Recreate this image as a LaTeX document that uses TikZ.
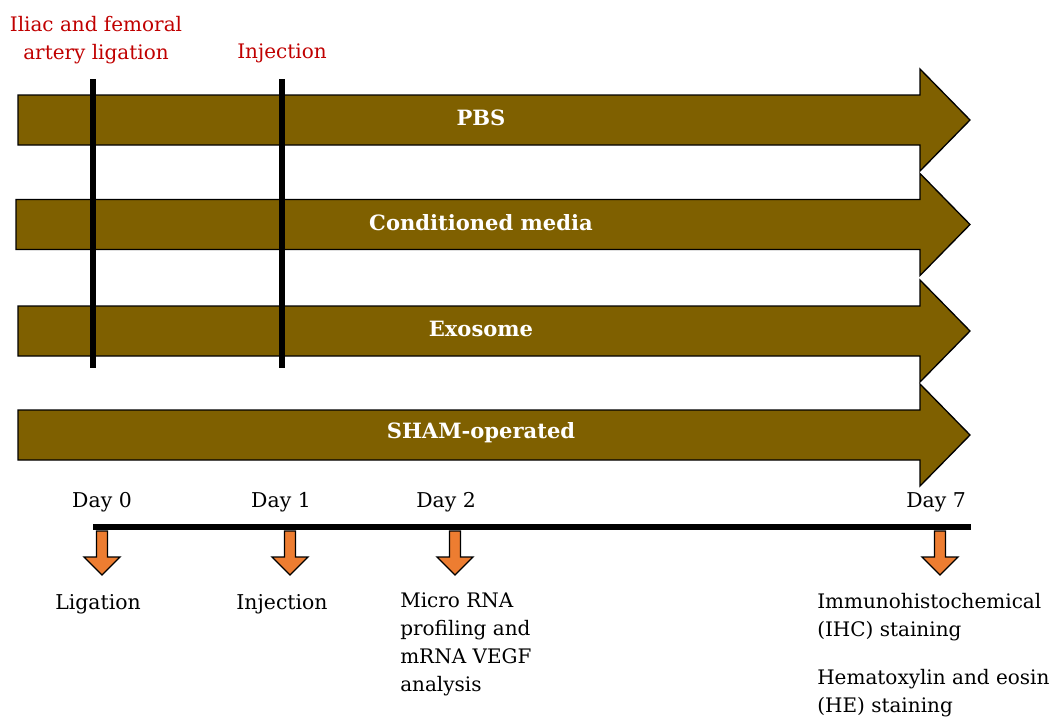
\documentclass[tikz,border=0pt]{standalone}
\usepackage{fontspec}
\setmainfont{DejaVu Serif}
\definecolor{shambrown}{HTML}{7F6000}
\definecolor{markorange}{HTML}{ED7D31}
\definecolor{notered}{HTML}{C00000}
\tikzset{
  grouplabel/.style = {text = white, font = \fontsize{15.8}{18}\selectfont\bfseries},
  daylabel/.style = {font = \fontsize{15.3}{18}\selectfont},
  steplabel/.style = {font = \fontsize{15}{21}\selectfont, align = left, anchor = north west, inner sep = 0pt},
  eventlabel/.style = {text = notered, font = \fontsize{15}{21}\selectfont, align = center}
}
\begin{document}
\begin{tikzpicture}[x = 0.75pt, y = -0.75pt]
  \useasboundingbox (0, 0) rectangle (1053, 718);
  % treatment groups
  \foreach \l/\c/\n/\t in {18/120/pbs/PBS, 16/224.5/cm/Conditioned media, 18/331/exo/Exosome, 18/435/sham/SHAM-operated} {
    \draw[fill = shambrown, line width = 1pt] (\l, \c - 25) -- (920, \c - 25) -- (920, \c - 51) -- (970, \c) -- (920, \c + 51) -- (920, \c + 25) -- (\l, \c + 25) -- cycle;
    \node[grouplabel] (\n) at (481, \c - 2) {\t};
  }
  % ligation and injection marks
  \coordinate (ligtop) at (93, 79);
  \coordinate (ligbot) at (93, 368);
  \coordinate (injtop) at (282, 79);
  \coordinate (injbot) at (282, 368);
  \draw[line width = 4.5pt] (ligtop) -- (ligbot);
  \draw[line width = 4.5pt] (injtop) -- (injbot);
  \node[eventlabel] (ligation) at (96, 40.5) {Iliac and femoral\\artery ligation};
  \node[eventlabel] (injection) at (282, 53.5) {Injection};
  % time line
  \coordinate (tstart) at (93, 527);
  \coordinate (tend) at (971, 527);
  \draw[line width = 5pt] (tstart) -- (tend);
  \node[daylabel] (day0) at (102, 502) {Day 0};
  \node[daylabel] (day1) at (281, 502) {Day 1};
  \node[daylabel] (day2) at (446, 502) {Day 2};
  \node[daylabel] (day7) at (936, 502) {Day 7};
  \foreach \x in {102, 290, 455, 940} {
    \draw[fill = markorange, line width = 1pt] (\x - 5.5, 531) -- (\x + 5.5, 531) -- (\x + 5.5, 557) -- (\x + 18, 557) -- (\x, 575) -- (\x - 18, 557) -- (\x - 5.5, 557) -- cycle;
  }
  \node[daylabel] (lig) at (98, 604) {Ligation};
  \node[daylabel] (inj) at (282, 604) {Injection};
  \node[steplabel] (mirna) at (400, 593) {Micro RNA\\profiling and\\mRNA VEGF\\analysis};
  \node[steplabel] (ihc) at (817, 593) {Immunohistochemical\\(IHC) staining};
  \node[steplabel] (he) at (817, 669) {Hematoxylin and eosin\\(HE) staining};
\end{tikzpicture}
\end{document}
